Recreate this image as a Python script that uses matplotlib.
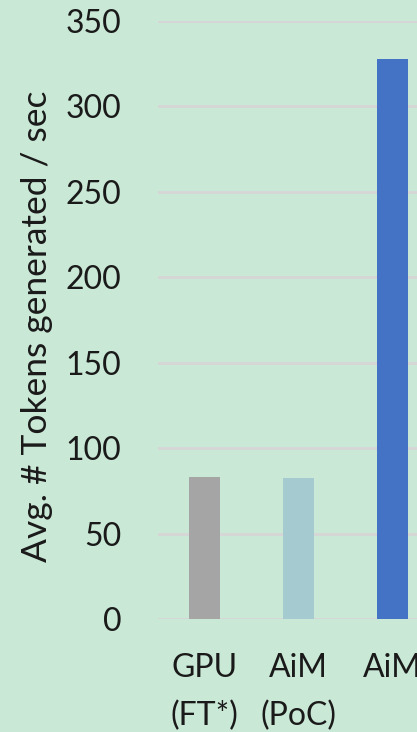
import matplotlib
matplotlib.use('Agg')
import matplotlib.pyplot as plt

plt.rcParams['font.family'] = ['Lato', 'DejaVu Sans']

# 数据
categories = ['GPU\n(FT*)', 'AiM\n(PoC)', 'AiM']
tokens_per_sec = [83, 82.5, 328]
bar_colors = ['#a5a5a5', '#a5cad0', '#4472c4']
y_ticks = [0, 50, 100, 150, 200, 250, 300, 350]

BG = '#c9e8d5'
W, H = 417, 732

fig = plt.figure(figsize=(W / 100, H / 100), dpi=100, facecolor=BG)
# 坐标轴向右延伸出画布
ax = fig.add_axes([157.5 / W, 112.7 / H, 3 * 94 / W, 598.3 / H], facecolor=BG)

x = range(len(categories))
ax.bar(x, tokens_per_sec, width=0.32, color=bar_colors, zorder=3)

ax.set_xlim(-0.5, len(categories) - 0.5)
ax.set_ylim(0, 350)
ax.set_yticks(y_ticks)
ax.set_xticks(list(x))
ax.set_xticklabels(categories, linespacing=1.75, va='top')

ax.grid(True, axis='y', color='#d6d6d6', linewidth=2, zorder=0)
ax.set_axisbelow(True)
for s in ax.spines.values():
    s.set_visible(False)

ax.tick_params(axis='y', length=0, pad=26, labelsize=23, labelcolor='#1a1a1a')
ax.tick_params(axis='x', length=0, pad=24, labelsize=23, labelcolor='#1a1a1a')
ax.set_ylabel('Avg. # Tokens generated / sec', fontsize=25.5, color='#1a1a1a')
ax.yaxis.set_label_coords(-0.37, 0.49)

plt.savefig('out.png', dpi=100, facecolor=BG)
plt.close()
